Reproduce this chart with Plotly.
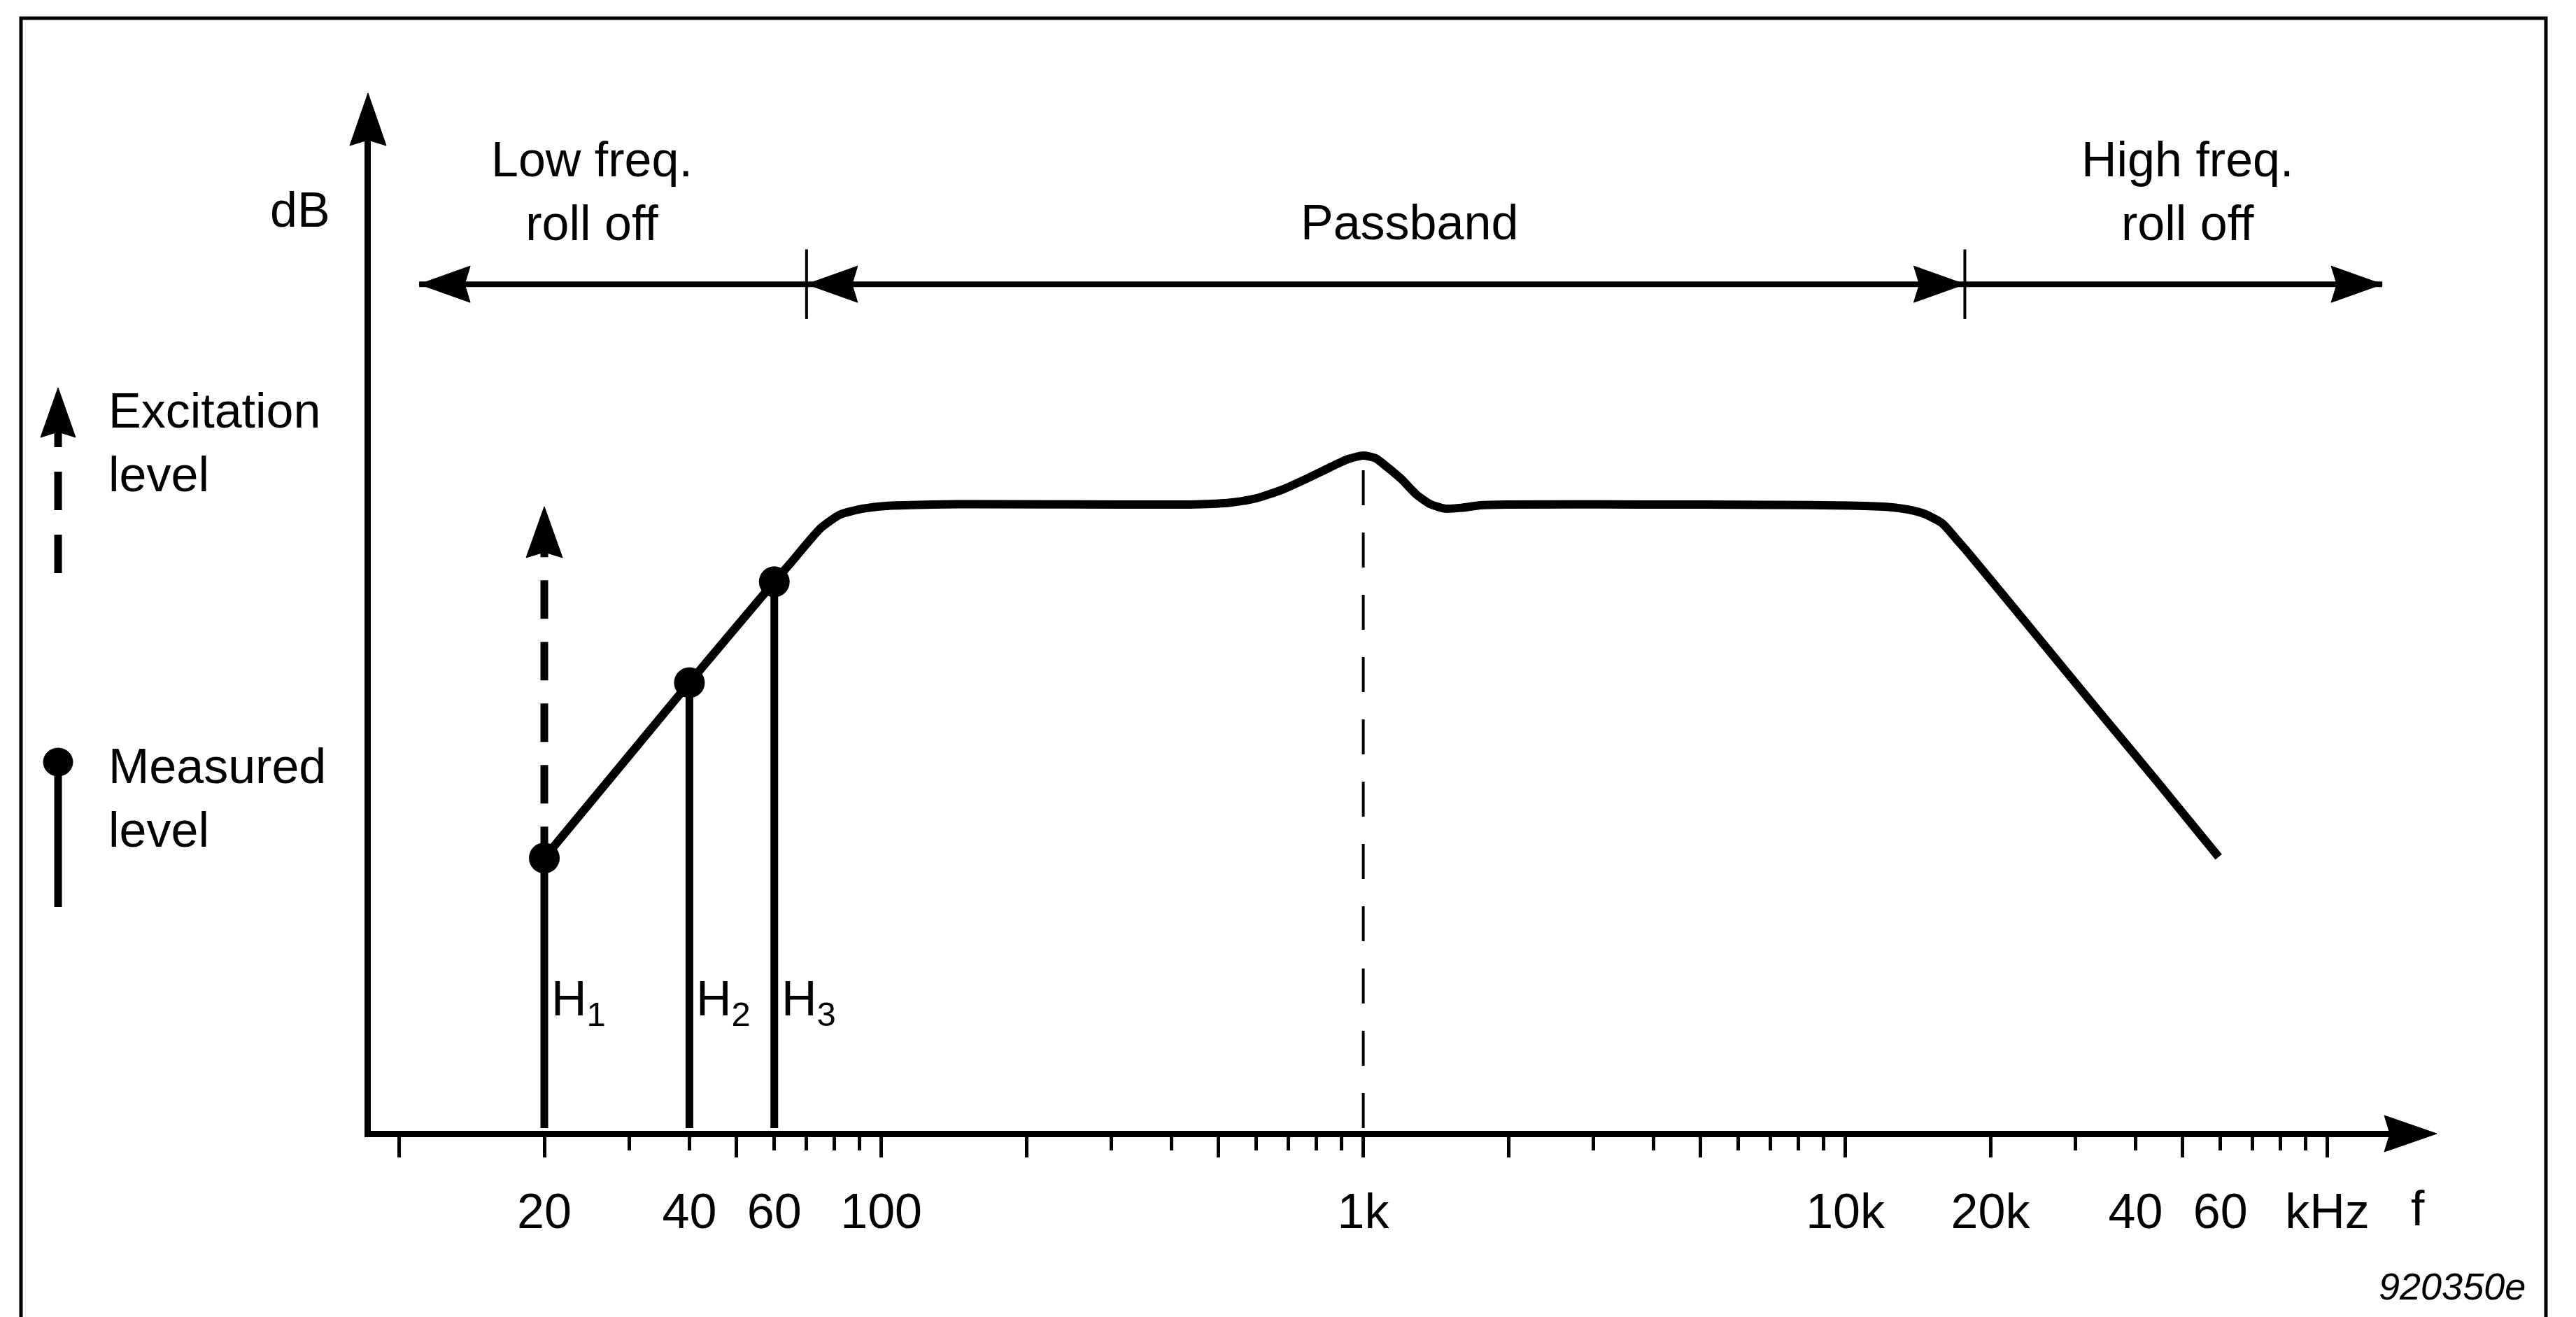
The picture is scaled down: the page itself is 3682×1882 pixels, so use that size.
import math
import plotly.graph_objects as go

# ---------------- data ----------------
freq_curve = [20, 40, 60, 65, 69.4, 75, 82, 91.5, 102.5, 128, 160, 312, 450, 530, 600, 680, 760,
              850, 930, 1000, 1060, 1120, 1200, 1290, 1380, 1480, 1600, 1750, 2000, 3774, 7000,
              10260, 12300, 13500, 14600, 15900, 17000, 18100, 23300, 34300, 44400, 59500]
level_curve = [15.52, 25.6, 31.4, 32.5, 33.45, 34.5, 35.25, 35.6, 35.76, 35.84, 35.86, 35.84,
               35.85, 35.95, 36.2, 36.7, 37.3, 37.95, 38.45, 38.65, 38.5, 38.0, 37.3, 36.4, 35.85,
               35.6, 35.65, 35.8, 35.84, 35.84, 35.82, 35.78, 35.7, 35.55, 35.3, 34.75, 33.85,
               32.98, 29.3, 23.64, 19.9, 15.58]

harmonic_freq = [20, 40, 60]
harmonic_level = [15.52, 25.6, 31.4]
harmonic_names = ["H<sub>1</sub>", "H<sub>2</sub>", "H<sub>3</sub>"]

excitation_freq = 20
excitation_level = 35.72
resonance_freq = 1000
resonance_level = 38.65

band_edges = [11, 70, 17700, 130000]
band_names = ["Low freq.<br>roll off", "Passband", "High freq.<br>roll off"]
band_arrow_level = 48.5

label_ticks = [20, 40, 60, 100, 1000, 10000, 20000, 40000, 60000, 100000]
label_text = ["20", "40", "60", "100", "1k", "10k", "20k", "40", "60", "kHz"]
long_ticks = [10, 20, 50, 100, 200, 500, 1000, 2000, 5000, 10000, 20000, 50000, 100000]
short_ticks = [30, 40, 60, 70, 80, 90, 300, 400, 600, 700, 800, 900, 3000, 4000, 6000, 7000,
               8000, 9000, 30000, 40000, 60000, 70000, 80000, 90000]

# ---------------- layout geometry (page pixels) ----------------
PAGE_W, PAGE_H = 3682, 1882
OFF = 8                      # default body margin of the html page
W, H = PAGE_W - OFF, PAGE_H - OFF
L, R, T, B = 530 - OFF, 3453 - OFF, 163 - OFF, 1616 - OFF
XRANGE = [0.94109, 5.18347]
YRANGE = [-0.16, 58.28]
FONT = "Liberation Sans, Arial, Helvetica, sans-serif"
FS = 70
TEXT_DY = -3   # correction for the annotation text box


def px(x):
    return (x - OFF - L) / (R - L)


def py(y):
    return (B - (y - OFF)) / (B - T)


def arrowhead(xa, ya, direction, xref="x", yref="y", dx=0, dy=0, length=73, half=26, notch=8):
    if direction == "up":
        pts = [(0, 0), (-half, -length), (0, -length + notch), (half, -length)]
    elif direction == "right":
        pts = [(0, 0), (-length, half), (-length + notch, 0), (-length, -half)]
    else:  # left
        pts = [(0, 0), (length, half), (length - notch, 0), (length, -half)]
    path = "M" + " L".join(f"{p[0] + dx},{p[1] + dy}" for p in pts) + " Z"
    return dict(type="path", xref=xref, yref=yref, xsizemode="pixel", ysizemode="pixel",
                xanchor=xa, yanchor=ya, path=path, fillcolor="black",
                line=dict(color="black", width=1), layer="above")


fig = go.Figure()

# stems of the measured levels
sx, sy = [], []
for f, v in zip(harmonic_freq, harmonic_level):
    sx += [f, f, None]
    sy += [0, v, None]
fig.add_trace(go.Scatter(x=sx, y=sy, mode="lines", line=dict(color="black", width=11),
                         hoverinfo="skip"))

# dashed excitation arrow
fig.add_trace(go.Scatter(x=[excitation_freq, excitation_freq],
                         y=[harmonic_level[0], excitation_level], mode="lines",
                         line=dict(color="black", width=11,
                                   dash="45px,33px,55px,33px,55px,33px,55px,33px,55px,33px,12px,400px"),
                         hoverinfo="skip"))

# dashed marker at the resonance
fig.add_trace(go.Scatter(x=[resonance_freq, resonance_freq], y=[0, resonance_level], mode="lines",
                         line=dict(color="black", width=4, dash="50px,39px"), hoverinfo="skip"))

# response curve
fig.add_trace(go.Scatter(x=freq_curve, y=level_curve, mode="lines",
                         line=dict(color="black", width=12, shape="spline", smoothing=0.6),
                         hoverinfo="skip"))

# measured points
fig.add_trace(go.Scatter(x=harmonic_freq, y=harmonic_level, mode="markers",
                         marker=dict(color="black", size=44, line=dict(width=0)),
                         hoverinfo="skip"))

# band arrows
bx = [band_edges[0], band_edges[1], None, band_edges[1], band_edges[2], None,
      band_edges[2], band_edges[3]]
by = [band_arrow_level, band_arrow_level, None, band_arrow_level, band_arrow_level, None,
      band_arrow_level, band_arrow_level]
fig.add_trace(go.Scatter(x=bx, y=by, mode="lines", line=dict(color="black", width=8),
                         hoverinfo="skip"))
tx, ty = [], []
for e in band_edges[1:3]:
    tx += [e, e, None]
    ty += [band_arrow_level - 2, band_arrow_level + 2, None]
fig.add_trace(go.Scatter(x=tx, y=ty, mode="lines", line=dict(color="black", width=4),
                         hoverinfo="skip"))

shapes = []
shapes.append(arrowhead(band_edges[0], band_arrow_level, "left"))
shapes.append(arrowhead(band_edges[1], band_arrow_level, "left"))
shapes.append(arrowhead(band_edges[2], band_arrow_level, "right"))
shapes.append(arrowhead(band_edges[3], band_arrow_level, "right"))
shapes.append(arrowhead(excitation_freq, excitation_level, "up"))
# axis arrowheads
shapes.append(arrowhead(0, 1, "up", xref="paper", yref="paper", dx=-4, dy=30, length=75))
shapes.append(arrowhead(1, 0, "right", xref="paper", yref="paper", dx=30, dy=-4, length=75))

# legend symbols (left margin)
for a, b in [(819, 764), (729, 674), (639, 590)]:
    shapes.append(dict(type="line", xref="paper", yref="paper", x0=px(83), x1=px(83),
                       y0=py(a), y1=py(b), line=dict(color="black", width=11)))
shapes.append(arrowhead(px(83), py(554), "up", xref="paper", yref="paper", length=71, half=25))
shapes.append(dict(type="line", xref="paper", yref="paper", x0=px(83), x1=px(83), y0=py(1089),
                   y1=py(1296), line=dict(color="black", width=11)))
shapes.append(dict(type="circle", xref="paper", yref="paper", xsizemode="pixel",
                   ysizemode="pixel", xanchor=px(83), yanchor=py(1089), x0=-21, x1=21, y0=-20,
                   y1=20, fillcolor="black", line=dict(color="black", width=1)))

# frame around the figure
shapes.append(dict(type="path", xref="paper", yref="paper",
                   path=f"M{px(30)},{py(1900)} L{px(30)},{py(26)} L{px(3639)},{py(26)} L{px(3639)},{py(1900)}",
                   line=dict(color="black", width=5)))

annotations = []


def text(s, x, ytop, xanchor="center", size=FS, italic=False):
    annotations.append(dict(text=f"<i>{s}</i>" if italic else s, x=px(x), y=py(ytop + TEXT_DY),
                            xref="paper", yref="paper", xanchor=xanchor, yanchor="top",
                            showarrow=False, align=xanchor if xanchor != "center" else "center",
                            font=dict(family=FONT, size=size, color="black")))


text(band_names[0], 846, 190)
text(band_names[1], 2014, 280)
text(band_names[2], 3126, 190)
text("dB", 474, 262, xanchor="right")
text("Excitation<br>level", 153, 549, xanchor="left")
text("Measured<br>level", 153, 1057, xanchor="left")
text("f", 3456, 1689)
text("920350e", 3612, 1809, xanchor="right", size=54, italic=True)

for f, name in zip(harmonic_freq, harmonic_names):
    annotations.append(dict(text=name, x=math.log10(f), y=py(1389 + TEXT_DY), xref="x",
                            yref="paper", xanchor="left", yanchor="top", xshift=8,
                            showarrow=False,
                            font=dict(family=FONT, size=FS, color="black")))

fig.update_layout(
    template="none",
    width=W, height=H,
    margin=dict(l=L, r=W - R, t=T, b=H - B, pad=0, autoexpand=False),
    paper_bgcolor="white", plot_bgcolor="white",
    showlegend=False,
    shapes=shapes, annotations=annotations,
    xaxis=dict(type="log", range=XRANGE, showgrid=False, zeroline=False, automargin=False,
               showline=True, linewidth=9, linecolor="black",
               tickmode="array", tickvals=long_ticks, ticks="outside", ticklen=29,
               tickwidth=5, tickcolor="black", showticklabels=False,
               minor=dict(tickmode="array", tickvals=short_ticks, ticks="outside",
                          ticklen=19, tickwidth=5, tickcolor="black", showgrid=False),
               fixedrange=True),
    xaxis2=dict(type="log", range=XRANGE, overlaying="x", anchor="y", side="bottom",
                showgrid=False, zeroline=False, showline=False, ticks="", automargin=False,
                tickmode="array", tickvals=label_ticks, ticktext=label_text,
                ticklabelstandoff=68,
                tickfont=dict(family=FONT, size=FS, color="black"), fixedrange=True),
    yaxis=dict(range=YRANGE, showgrid=False, zeroline=False, showline=True, linewidth=9,
               linecolor="black", ticks="", showticklabels=False, fixedrange=True,
               automargin=False),
)

# an invisible trace so that xaxis2 gets drawn
fig.add_trace(go.Scatter(x=[label_ticks[0]], y=[0], xaxis="x2", mode="markers",
                         marker=dict(opacity=0), hoverinfo="skip"))

fig.write_html("out.html")
